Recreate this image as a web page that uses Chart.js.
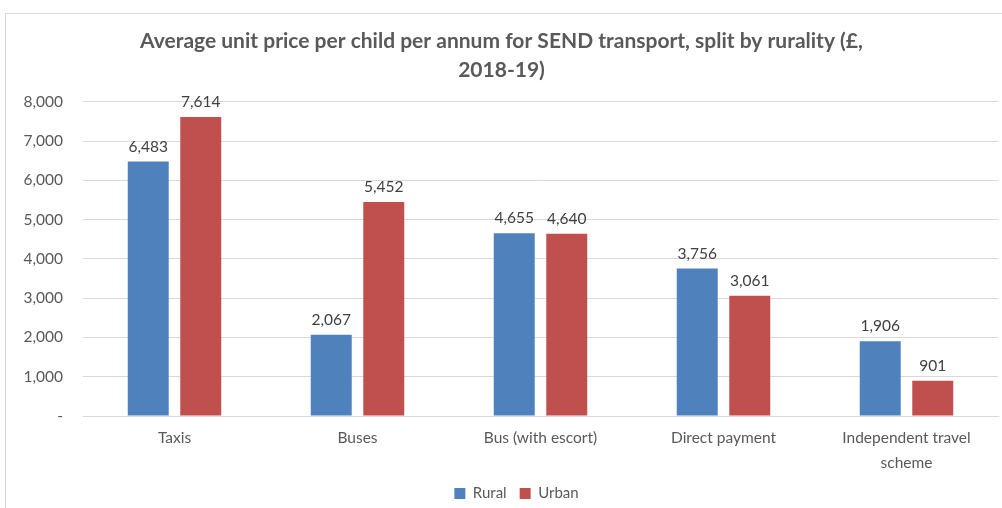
<!DOCTYPE html>
<html>
<head>
<meta charset="utf-8">
<script src="https://cdn.jsdelivr.net/npm/chart.js@4.4.1/dist/chart.umd.min.js"></script>
<style>
  html, body { margin: 0; padding: 0; background: #fff; }
  #wrap { position: relative; width: 1002px; height: 508px; overflow: hidden; }
  #frame { position: absolute; left: 5px; top: 13px; width: 1010px; height: 520px; border: 1px solid #d9d9d9; box-sizing: border-box; }
  #wrap canvas { position: absolute; left: 0; top: 0; }
</style>
</head>
<body>
<div id="wrap">
  <div id="frame"></div>
  <canvas id="chart" width="1002" height="508"></canvas>
</div>
<script>
const categories = ["Taxis", "Buses", "Bus (with escort)", "Direct payment", ["Independent travel", "scheme"]]
const rural = [6483, 2067, 4655, 3756, 1906]
const urban = [7614, 5452, 4640, 3061, 901]
const yTicks = [0, 1000, 2000, 3000, 4000, 5000, 6000, 7000, 8000]

const textColor = "#595959"
const fontFamily = "Lato, 'Open Sans', sans-serif"

const fmt = v => v === 0 ? "-" : v.toLocaleString("en-GB")

// draws the value above each bar
const valueLabels = {
  id: "valueLabels",
  afterDatasetsDraw(chart) {
    const ctx = chart.ctx
    ctx.save()
    ctx.font = "15.5px " + fontFamily
    ctx.fillStyle = "#404040"
    ctx.textAlign = "center"
    ctx.textBaseline = "middle"
    chart.data.datasets.forEach((ds, i) => {
      chart.getDatasetMeta(i).data.forEach((bar, j) => {
        ctx.fillText(fmt(ds.data[j]), bar.x, bar.y - 15)
      })
    })
    ctx.restore()
  }
}

// the original legend sits a little right of centre and a bit lower
const nudgeLegend = {
  id: "nudgeLegend",
  afterLayout(chart) {
    const lg = chart.legend
    lg.left += 15
    lg.right += 15
    lg.top += 3
    lg.bottom += 3
  }
}

new Chart(document.getElementById("chart"), {
  type: "bar",
  data: {
    labels: categories,
    datasets: [
      { label: "Rural", data: rural, backgroundColor: "#4f81bd", categoryPercentage: 0.574, barPercentage: 0.78 },
      { label: "Urban", data: urban, backgroundColor: "#c0504d", categoryPercentage: 0.574, barPercentage: 0.78 }
    ]
  },
  options: {
    responsive: false,
    animation: false,
    layout: { padding: { left: 5, right: 4, top: 0, bottom: 0 } },
    plugins: {
      title: {
        display: true,
        text: ["Average unit price per child per annum for SEND transport, split by rurality (£,", "2018-19)"],
        color: textColor,
        font: { family: fontFamily, size: 21, weight: "bold", lineHeight: 1.38 },
        padding: { top: 26.5, bottom: 17.5 }
      },
      legend: {
        position: "bottom",
        labels: {
          color: textColor,
          font: { family: fontFamily, size: 15 },
          boxWidth: 11,
          boxHeight: 11,
          padding: 13
        }
      },
      tooltip: { enabled: false }
    },
    scales: {
      x: {
        grid: { display: false, drawTicks: false },
        border: { color: "#d9d9d9" },
        ticks: { color: textColor, font: { family: fontFamily, size: 15.5, lineHeight: 1.6 }, padding: 10, maxRotation: 0, autoSkip: false },
        afterFit: s => { s.height = 54 }
      },
      y: {
        min: 0,
        max: 8000,
        afterBuildTicks: s => { s.ticks = yTicks.map(v => ({ value: v })) },
        grid: { color: "#d9d9d9", drawTicks: false },
        border: { display: false },
        ticks: { color: textColor, font: { family: fontFamily, size: 15.5 }, padding: 20, callback: v => fmt(v) },
        afterFit: s => { s.width = 78 }
      }
    }
  },
  plugins: [valueLabels, nudgeLegend]
})
</script>
</body>
</html>
